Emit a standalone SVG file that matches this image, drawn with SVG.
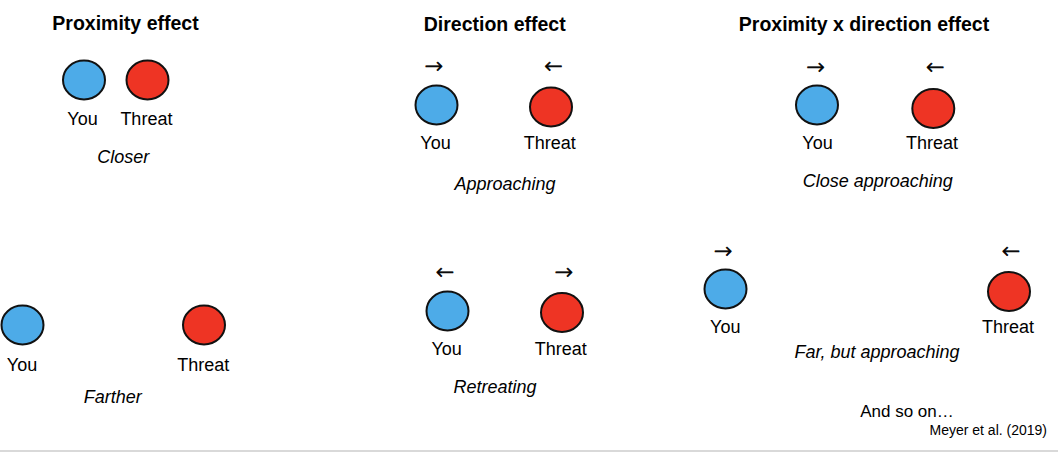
<svg xmlns="http://www.w3.org/2000/svg" width="1058" height="452" viewBox="0 0 1058 452">
<style>
text{font-family:"Liberation Sans",Arial,sans-serif;fill:#000;text-anchor:middle}
.title{font-size:19.5px;font-weight:bold}
.lbl{font-size:18px}
.cap{font-size:18px;font-style:italic}
.arr{font-family:"DejaVu Sans",sans-serif;font-size:22px;font-weight:200;stroke:#000;stroke-width:0.7}
.you{fill:#4DABE8;stroke:#111;stroke-width:2}
.threat{fill:#EE3424;stroke:#111;stroke-width:2}
</style>
<rect x="0" y="0" width="1058" height="452" fill="#fff"/>
<rect x="0" y="450" width="1058" height="2" fill="#d9d9d9"/>
<g id="connectors"/>
<g id="proximity">
<text class="title" x="125.5" y="30">Proximity effect</text>
<g id="prox-close">
<ellipse class="you" cx="84" cy="80" rx="21" ry="19.5"/>
<ellipse class="threat" cx="147.5" cy="80" rx="21" ry="19.5"/>
<text class="lbl" x="82.5" y="125">You</text>
<text class="lbl" x="146.4" y="125">Threat</text>
<text class="cap" x="123.3" y="163">Closer</text>
</g>
<g id="prox-far">
<ellipse class="you" cx="22.5" cy="325" rx="21" ry="19.5"/>
<ellipse class="threat" cx="204" cy="325" rx="21" ry="19.5"/>
<text class="lbl" x="22" y="371">You</text>
<text class="lbl" x="203.3" y="371">Threat</text>
<text class="cap" x="112.7" y="403">Farther</text>
</g>
</g>
<g id="direction">
<text class="title" x="494.7" y="31">Direction effect</text>
<g id="dir-approach">
<text class="arr" x="434" y="72.5">→</text>
<text class="arr" x="553.5" y="72.5">←</text>
<ellipse class="you" cx="436.5" cy="105" rx="21" ry="19.5"/>
<ellipse class="threat" cx="551" cy="107" rx="21" ry="19.5"/>
<text class="lbl" x="435.5" y="149">You</text>
<text class="lbl" x="549.7" y="149">Threat</text>
<text class="cap" x="505" y="190">Approaching</text>
</g>
<g id="dir-retreat">
<text class="arr" x="445" y="279.2">←</text>
<text class="arr" x="564" y="279.2">→</text>
<ellipse class="you" cx="447.5" cy="311" rx="21" ry="19.5"/>
<ellipse class="threat" cx="562" cy="312.5" rx="21" ry="19.5"/>
<text class="lbl" x="446.7" y="355">You</text>
<text class="lbl" x="560.8" y="355">Threat</text>
<text class="cap" x="495" y="393">Retreating</text>
</g>
</g>
<g id="proxdir">
<text class="title" x="864" y="30.5">Proximity x direction effect</text>
<g id="pd-close">
<text class="arr" x="815.7" y="73.5">→</text>
<text class="arr" x="935.3" y="73.5">←</text>
<ellipse class="you" cx="817" cy="105" rx="21" ry="19.5"/>
<ellipse class="threat" cx="933.3" cy="108.5" rx="21" ry="19.5"/>
<text class="lbl" x="817.5" y="149">You</text>
<text class="lbl" x="932" y="149">Threat</text>
<text class="cap" x="877.7" y="187">Close approaching</text>
</g>
<g id="pd-far">
<text class="arr" x="723.3" y="257.5">→</text>
<text class="arr" x="1011" y="257.5">←</text>
<ellipse class="you" cx="725.5" cy="289" rx="21" ry="19.5"/>
<ellipse class="threat" cx="1009" cy="291.5" rx="21" ry="19.5"/>
<text class="lbl" x="725.3" y="332.5">You</text>
<text class="lbl" x="1008" y="332.5">Threat</text>
<text class="cap" x="877" y="358">Far, but approaching</text>
</g>
<text class="lbl" x="907" y="417" style="font-size:17px">And so on…</text>
<text x="1047" y="435" style="font-size:14px;text-anchor:end">Meyer et al. (2019)</text>
</g>
</svg>
